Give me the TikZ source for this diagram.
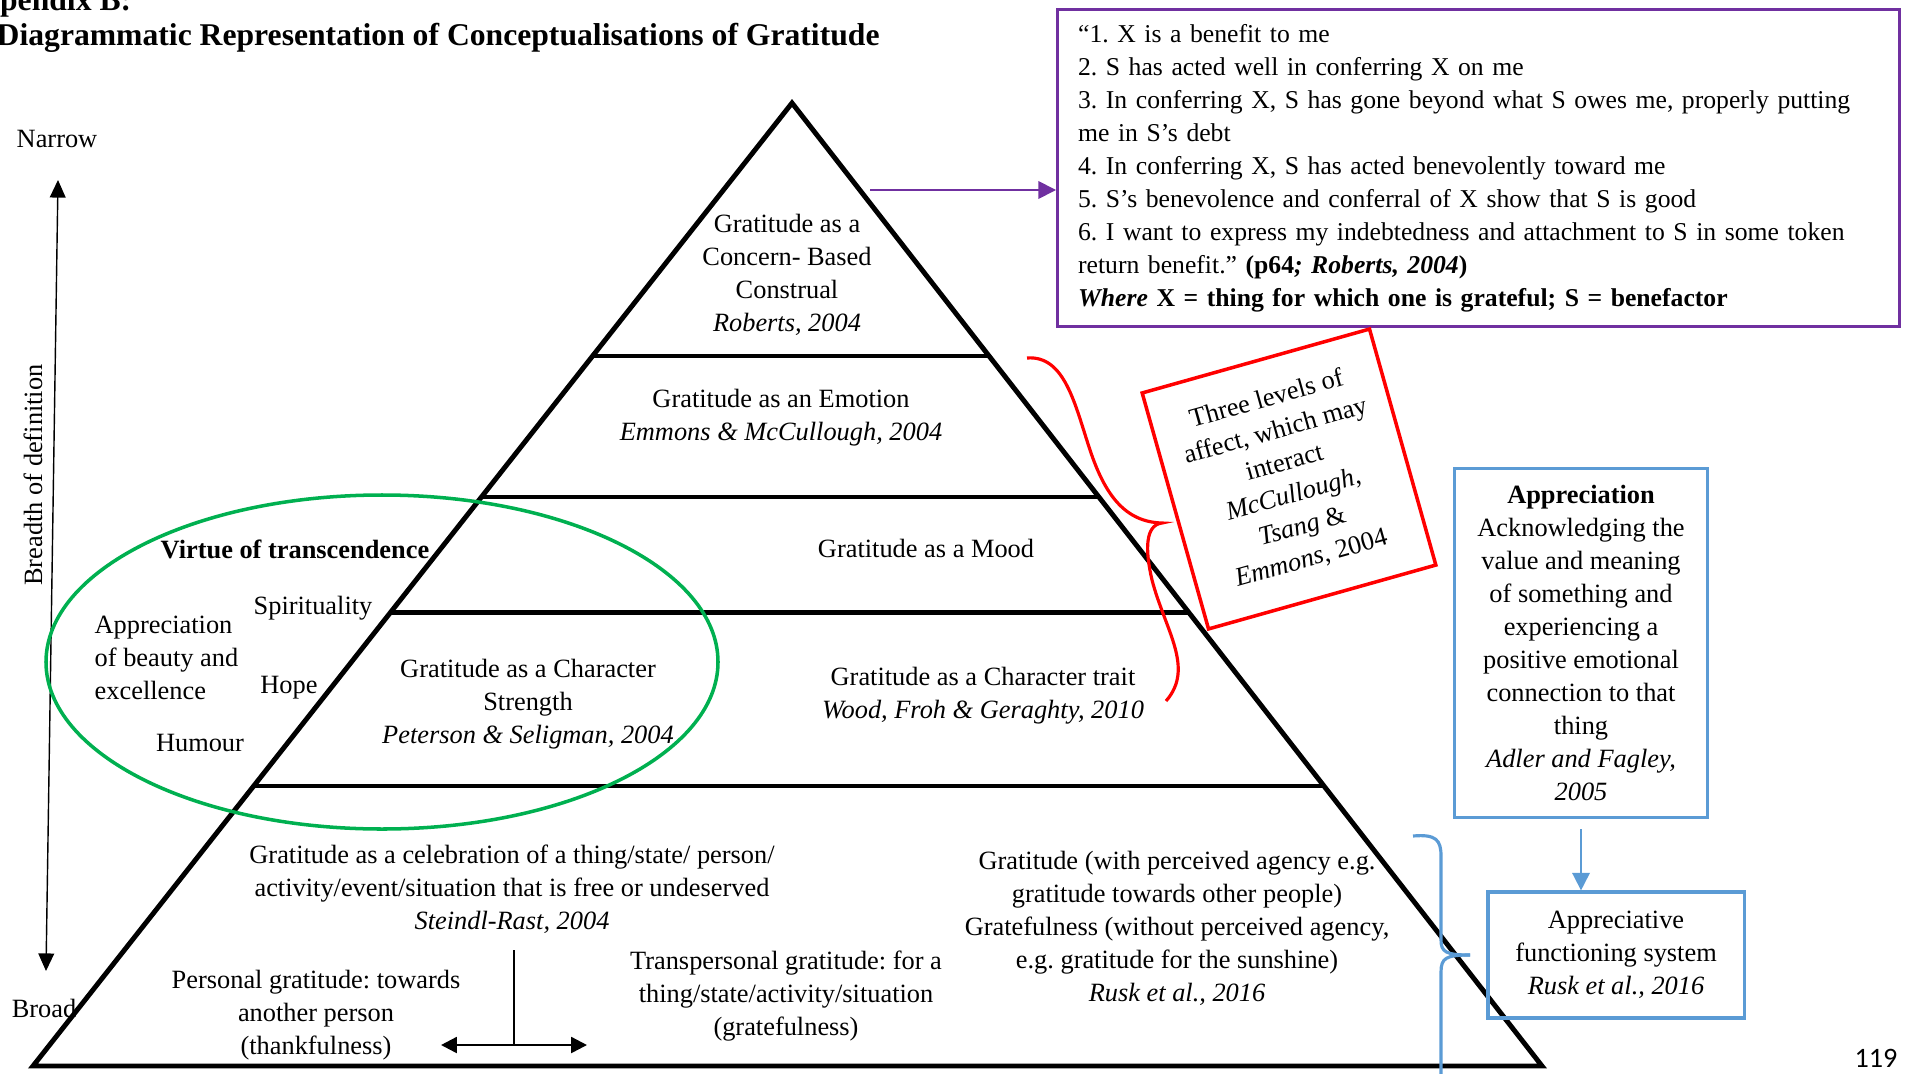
\documentclass[tikz,border=0pt]{standalone}
\usepackage{fontspec}
\setmainfont{Liberation Serif}
\newfontfamily\pagefont{Carlito}
\usetikzlibrary{arrows.meta,calc,positioning}
\definecolor{DefPurple}{RGB}{112,48,160}
\definecolor{AffectRed}{RGB}{255,0,0}
\definecolor{VirtueGreen}{RGB}{0,176,80}
\definecolor{ApprBlue}{RGB}{91,155,213}
\frenchspacing

\begin{document}
\begin{tikzpicture}[x=0.01cm,y=-0.01cm,
    txt/.style={font=\fontsize{7.5}{9.4}\selectfont,align=center,inner sep=0pt},
    headtxt/.style={font=\fontsize{9}{11}\selectfont\bfseries,anchor=base west,inner sep=0pt},
    level/.style={line width=1.2pt},
    bluebox/.style={draw=ApprBlue,line width=0.9pt,txt,inner sep=0pt},
    tip/.style={-{Triangle[length=5pt,width=5pt]}}]
  \clip (0,0) rectangle (1910,1073);
  \node[headtxt] (appx) at (-41,11) {Appendix B:};
  \node[headtxt] (title) at (-4,46) {Diagrammatic Representation of Conceptualisations of Gratitude};

  % pyramid
  \coordinate (apex) at (792,103);
  \coordinate (bl) at (33,1066);
  \coordinate (br) at (1542,1066);
  \draw[line width=1.4pt] (apex) -- (bl) -- (br) -- cycle;
  \foreach \t in {0.263,0.409,0.529,0.709}
    \draw[level] ($(apex)!\t!(bl)$) -- ($(apex)!\t!(br)$);

  % breadth axis
  \node[txt] (narrow) at (57,139) {Narrow};
  \node[txt] (broad) at (44,1008) {Broad};
  \node[txt,rotate=90] (breadth) at (33,475) {Breadth of definition};
  \coordinate (axtop) at (58,180);
  \coordinate (axbot) at (46,971);
  \draw[line width=0.4pt,{Triangle[length=5pt,width=4.5pt]}-{Triangle[length=5pt,width=4.5pt]}] (axbot) -- (axtop);

  % levels
  \node[txt] (construal) at (787,275) {Gratitude as a\\Concern- Based\\Construal\\\textit{Roberts, 2004}};
  \node[txt] (emotion) at (781,418) {Gratitude as an Emotion\\\textit{Emmons \& McCullough, 2004}};
  \node[txt] (mood) at (926,548) {Gratitude as a Mood};
  \node[txt] (trait) at (983,696) {Gratitude as a Character trait\\\textit{Wood, Froh \& Geraghty, 2010}};
  \node[txt] (strength) at (528,704) {Gratitude as a Character\\Strength\\\textit{Peterson \& Seligman, 2004}};
  \node[txt] (celeb) at (512,889) {Gratitude as a celebration of a thing/state/ person/\\activity/event/situation that is free or undeserved\\\textit{Steindl-Rast, 2004}};
  \node[txt] (personal) at (316,1015) {Personal gratitude: towards\\another person\\(thankfulness)};
  \node[txt] (transpers) at (786,996) {Transpersonal gratitude: for a\\thing/state/activity/situation\\(gratefulness)};
  \node[txt] (rusk) at (1177,928) {Gratitude (with perceived agency e.g.\\gratitude towards other people)\\Gratefulness (without perceived agency,\\e.g. gratitude for the sunshine)\\\textit{Rusk et al., 2016}};
  \coordinate (stem) at (514,950);
  \coordinate (split) at (514,1045);
  \coordinate (pl) at (441,1045);
  \coordinate (pr) at (587,1045);
  \draw[line width=0.4pt] (stem) -- (split);
  \draw[line width=0.7pt,{Triangle[length=4.5pt,width=4.5pt]}-{Triangle[length=4.5pt,width=4.5pt]}] (pl) -- (pr);

  % virtue of transcendence
  \draw[VirtueGreen,line width=1pt] (382,662) ellipse (336 and 167);
  \node[txt,font=\fontsize{7.5}{9.4}\selectfont\bfseries] (virtue) at (295,549) {Virtue of transcendence};
  \node[txt] (spirit) at (313,608) {Spirituality};
  \node[txt,align=left,anchor=west] (beauty) at (94,658) {Appreciation\\of beauty and\\excellence};
  \node[txt] (hope) at (289,688) {Hope};
  \node[txt] (humour) at (200,743) {Humour};

  % Roberts definition
  \node[draw=DefPurple,line width=0.9pt,txt,font=\fontsize{7.3}{9.4}\selectfont,align=left,anchor=north west,
        text width=8cm,inner xsep=0.205cm,minimum height=3.17cm] (defn) at (1056,8)
    {“1. X is a benefit to me\\
     2. S has acted well in conferring X on me\\
     3. In conferring X, S has gone beyond what S owes me, properly putting\\
     me in S’s debt\\
     4. In conferring X, S has acted benevolently toward me\\
     5. S’s benevolence and conferral of X show that S is good\\
     6. I want to express my indebtedness and attachment to S in some token\\
     return benefit.” \textbf{(p64\textit{; Roberts, 2004})}\\
     \textbf{\textit{Where} X = thing for which one is grateful; S = benefactor}};
  \coordinate (pstart) at (870,190);
  \draw[DefPurple,line width=0.5pt,tip] (pstart) -- (pstart -| defn.west);

  % three levels of affect
  \draw[AffectRed,line width=0.9pt] (1027,358) .. controls (1065,355) and (1075,405) .. (1090,450)
    .. controls (1105,495) and (1125,522) .. (1162,523)
    .. controls (1145,525) and (1145,550) .. (1152,580)
    .. controls (1165,630) and (1195,668) .. (1166,701);
  \node[draw=AffectRed,line width=1pt,txt,rotate=15.7,minimum width=2.36cm,minimum height=2.45cm] (affect) at (1289,479)
    {Three levels of\\affect, which may\\interact\\\textit{McCullough,}\\\textit{Tsang} \&\\\textit{Emmons}, 2004};

  % appreciation
  \node[bluebox,minimum width=2.53cm,minimum height=3.49cm] (appr) at (1581,643)
    {\textbf{Appreciation}\\Acknowledging the\\value and meaning\\of something and\\experiencing a\\positive emotional\\connection to that\\thing\\\textit{Adler and Fagley,}\\\textit{2005}};
  \node[bluebox,minimum width=2.56cm,minimum height=1.26cm] (afs) at (1616,955)
    {Appreciative\\functioning system\\\textit{Rusk et al., 2016}};
  \draw[ApprBlue,line width=0.5pt,shorten <=1mm,tip] (appr.south) -- (appr.south |- afs.north);
  \draw[ApprBlue,line width=0.9pt] (1413,836) .. controls (1436,834) and (1441,840) .. (1441,856) -- (1441,940)
    .. controls (1441,952) and (1446,955) .. (1470,955);
  \draw[ApprBlue,line width=0.9pt] (1470,955) .. controls (1446,955) and (1441,958) .. (1441,972) -- (1441,1080);

  \node[font=\pagefont\fontsize{8}{10}\selectfont,inner sep=0pt] (pageno) at (1876,1058) {119};
\end{tikzpicture}
\end{document}
